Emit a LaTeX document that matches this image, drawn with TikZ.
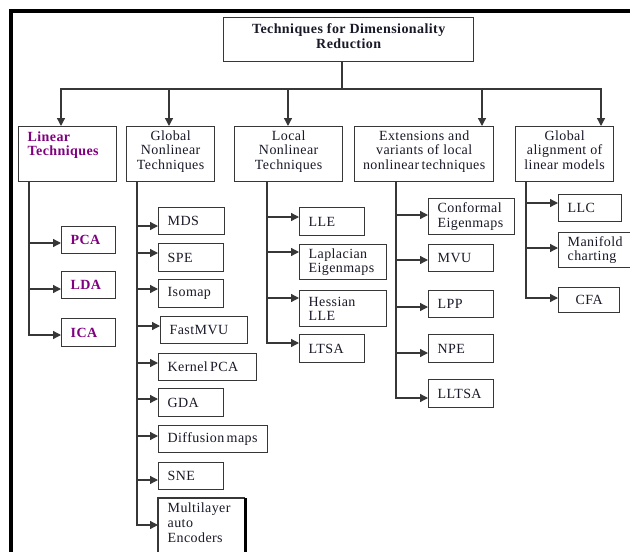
\documentclass[tikz,border=0pt]{standalone}
\usepackage{fontspec}
\setmainfont{Liberation Serif}[LetterSpace=3]
\usetikzlibrary{arrows.meta}
\definecolor{linec}{RGB}{55,55,55}
\definecolor{txt}{RGB}{25,25,40}
\definecolor{purp}{RGB}{128,0,128}
\newcommand{\topc}[4]{\parbox[c][#2pt][t]{#1pt}{\vspace{#3pt}\centering #4}}
\newcommand{\topl}[4]{\parbox[c][#2pt][t]{#1pt}{\vspace{#3pt}\raggedright\leftskip=9pt #4}}
\begin{document}
\begin{tikzpicture}[x=1pt,y=-1pt,
  font=\fontsize{14}{14.5}\selectfont,
  box/.style={draw=linec, line width=1.3pt, text=txt},
  cat/.style={box, inner sep=0pt, anchor=north west},
  leaf/.style={box, anchor=north west, inner xsep=9pt, inner ysep=0pt, align=left},
  purpt/.style={text=purp, font=\fontsize{14}{14.5}\selectfont\bfseries},
  conn/.style={draw=linec, line width=1.3pt},
  arr/.style={conn, -{Triangle[length=8pt,width=8pt]}}]
\useasboundingbox (0,0) rectangle (630,552);
\clip (0,0) rectangle (630,552);
\fill[white] (0,0) rectangle (630,552);
% outer frame
\draw[black, line width=3.8pt] (11,560) -- (11,11) -- (640,11);

% top
\node[cat, font=\fontsize{14}{14.5}\selectfont\bfseries] (top) at (223,17) {\topc{250}{44}{6}{Techniques for Dimensionality\\Reduction}};

% level 2
\node[cat, purpt] (lin) at (18,126) {\topl{98}{55}{5}{Linear\\Techniques}};
\node[cat] (gnl) at (126,126) {\topc{88}{55}{4}{Global\\Nonlinear\\Techniques}};
\node[cat] (lnl) at (234,126) {\topc{108}{55}{4}{Local\\Nonlinear\\Techniques}};
\node[cat] (ext) at (354,126) {\topc{139}{55}{4}{Extensions and\\variants of local\\nonlinear\,techniques}};
\node[cat] (ga) at (515,126) {\topc{98}{55}{4}{Global\\alignment of\\linear models}};

% bus
\coordinate (b1) at (61,89);
\coordinate (b2) at (169,89);
\coordinate (b3) at (288,89);
\coordinate (b4) at (482,89);
\coordinate (b5) at (601,89);
\coordinate (bt) at (342,89);
\draw[conn] (top.south -| bt) -- (bt);
\draw[arr] (b3) -- (b1) -- (b1 |- lin.north);
\draw[arr] (b3) -- (b5) -- (b5 |- ga.north);
\draw[arr] (b2) -- (b2 |- gnl.north);
\draw[arr] (b3) -- (b3 |- lnl.north);
\draw[arr] (b4) -- (b4 |- ext.north);

% linear leaves
\node[leaf, purpt, text width=36pt, minimum height=27pt] (pca) at (61,226) {PCA};
\node[leaf, purpt, text width=36pt, minimum height=27pt] (lda) at (61,271) {LDA};
\node[leaf, purpt, text width=36pt, minimum height=28pt] (ica) at (61,318) {ICA};
\coordinate (l1) at (29,243);
\coordinate (l2) at (29,289);
\coordinate (l3) at (29,335);
\draw[arr] (lin.south -| l3) -- (l3) -- (l3 -| ica.west);
\draw[arr] (l1) -- (l1 -| pca.west);
\draw[arr] (l2) -- (l2 -| lda.west);

% global nonlinear leaves
\node[leaf, text width=48pt, minimum height=27pt] (mds) at (158,207) {MDS};
\node[leaf, text width=47pt, minimum height=28pt] (spe) at (158,243) {SPE};
\node[leaf, text width=47pt, minimum height=28pt] (iso) at (158,279) {Isomap};
\node[leaf, text width=69pt, minimum height=27pt] (fmvu) at (160,316) {FastMVU};
\node[leaf, text width=80pt, minimum height=27pt] (kpca) at (158,353) {Kernel\,PCA};
\node[leaf, text width=47pt, minimum height=28pt] (gda) at (158,388) {GDA};
\node[leaf, text width=91pt, minimum height=27pt] (dif) at (158,425) {Diffusion\,maps};
\node[leaf, text width=47pt, minimum height=27pt] (sne) at (158,462) {SNE};
\node[cat, draw=none] (ml) at (158,498) {\topl{86}{64}{4.5}{\baselineskip=15pt Multilayer\\auto\\Encoders}};
\draw[conn] (ml.south west) -- (ml.north west) -- (ml.north east);
\draw[black, line width=2.6pt] (ml.north east) -- (ml.south east);
\coordinate (g1) at (137,226);
\coordinate (g2) at (137,253);
\coordinate (g3) at (137,289);
\coordinate (g4) at (137,326);
\coordinate (g5) at (137,363);
\coordinate (g6) at (137,399);
\coordinate (g7) at (137,436);
\coordinate (g8) at (137,480);
\coordinate (g9) at (137,525);
\draw[arr] (gnl.south -| g9) -- (g9) -- (g9 -| ml.west);
\draw[arr] (g1) -- (g1 -| mds.west);
\draw[arr] (g2) -- (g2 -| spe.west);
\draw[arr] (g3) -- (g3 -| iso.west);
\draw[arr] (g4) -- (g4 -| fmvu.west);
\draw[arr] (g5) -- (g5 -| kpca.west);
\draw[arr] (g6) -- (g6 -| gda.west);
\draw[arr] (g7) -- (g7 -| dif.west);
\draw[arr] (g8) -- (g8 -| sne.west);

% local nonlinear leaves
\node[leaf, text width=47pt, minimum height=28pt] (lle) at (299,207) {LLE};
\node[leaf, text width=69pt, minimum height=35pt] (lap) at (299,244) {Laplacian\\Eigenmaps};
\node[leaf, text width=69pt, minimum height=36pt] (hes) at (299,290) {Hessian\\LLE};
\node[leaf, text width=47pt, minimum height=28pt] (ltsa) at (299,334) {LTSA};
\coordinate (n1) at (267,217);
\coordinate (n2) at (267,252);
\coordinate (n3) at (267,298);
\coordinate (n4) at (267,343);
\draw[arr] (lnl.south -| n4) -- (n4) -- (n4 -| ltsa.west);
\draw[arr] (n1) -- (n1 -| lle.west);
\draw[arr] (n2) -- (n2 -| lap.west);
\draw[arr] (n3) -- (n3 -| hes.west);

% extensions leaves
\node[leaf, text width=68pt, minimum height=36pt] (conf) at (428,198) {Conformal\\Eigenmaps};
\node[leaf, text width=47pt, minimum height=27pt] (mvu) at (428,244) {MVU};
\node[leaf, text width=47pt, minimum height=27pt] (lpp) at (428,290) {LPP};
\node[leaf, text width=47pt, minimum height=28pt] (npe) at (428,334) {NPE};
\node[leaf, text width=47pt, minimum height=28pt] (lltsa) at (428,379) {LLTSA};
\coordinate (e1) at (396,215);
\coordinate (e2) at (396,260);
\coordinate (e3) at (396,307);
\coordinate (e4) at (396,353);
\coordinate (e5) at (396,398);
\draw[arr] (ext.south -| e5) -- (e5) -- (e5 -| lltsa.west);
\draw[arr] (e1) -- (e1 -| conf.west);
\draw[arr] (e2) -- (e2 -| mvu.west);
\draw[arr] (e3) -- (e3 -| lpp.west);
\draw[arr] (e4) -- (e4 -| npe.west);

% global alignment leaves
\node[leaf, text width=45pt, minimum height=27pt] (llc) at (558,194) {LLC};
\node[leaf, text width=70pt, minimum height=35pt] (mc) at (558,232) {Manifold\\charting};
\node[leaf, text width=43pt, minimum height=25pt, align=center] (cfa) at (558,287) {CFA};
\coordinate (a1) at (526,203);
\coordinate (a2) at (526,248);
\coordinate (a3) at (526,298);
\draw[arr] (ga.south -| a3) -- (a3) -- (a3 -| cfa.west);
\draw[arr] (a1) -- (a1 -| llc.west);
\draw[arr] (a2) -- (a2 -| mc.west);
\end{tikzpicture}
\end{document}
